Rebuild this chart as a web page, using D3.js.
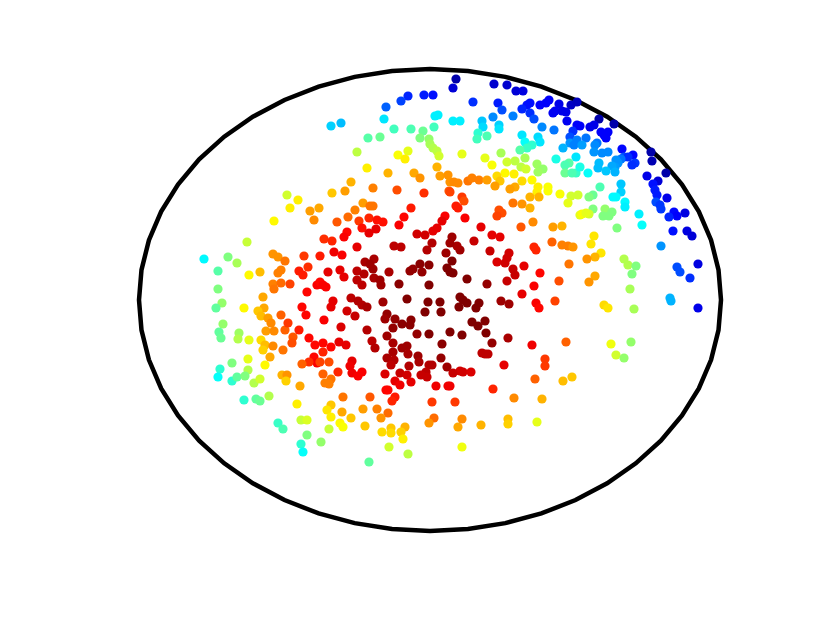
<!DOCTYPE html>
<html>
<head>
<meta charset="utf-8">
<script src="https://cdn.jsdelivr.net/npm/d3@7"></script>
<style>
  body { margin: 0; background: #fff; }
  svg { display: block; }
</style>
</head>
<body>
<div id="chart"></div>
<script>
// Points read off the picture, one line per region. Units are measured from the
// centre of the ellipse; level is the position on the jet colour map (0-100).
var pointX = [
  -143,-132,-140,-156,-120,-111,-116,-183,-157,-152,-145,-126,-110,-226,-202,-193,-212,-181,-170,-149,-152,-131,-122,-127,-157,-149,-140,-156,-113,-123,-212,-208,-214,-186,-167,-166,-172,-128,-149,-124,-169,-162,
  -207,-211,-209,-191,-192,-181,-169,-165,-167,-164,-156,-159,-145,-142,-131,-157,-147,-137,-138,-121,-115,-116,-113,-121,-128,-160,-182,-198,-165,-210,-212,-198,-193,-182,-185,-176,-170,-148,-143,-144,-130,-186,-174,-170,-161,-133,-129,-123,-152,-147,-123,-129,-127,-109,
  -22,-29,-44,-6,3,-46,5,8,-89,-99,4,-36,-19,-7,-62,-50,-10,-1,0,3,7,9,-73,-22,-32,-25,-63,7,-42,-16,-10,10,18,-79,-98,-85,-57,-33,-6,19,
  -67,-60,-57,-19,-75,-82,-93,-26,15,-71,-61,-53,-47,-31,-68,-54,-61,12,7,3,-5,-13,-83,-86,-106,-98,-73,-36,-29,2,-3,16,-96,-88,-65,-56,-60,-57,-10,-1,-17,-20,-8,-41,-73,-90,-102,-66,-86,-73,-56,-50,-68,-49,-31,-1,17,-110,-107,-104,-97,-99,-79,-72,-68,-63,-83,-75,-47,-23,-2,10,-5,11,-43,-45,-35,-19,-28,-20,-37,-106,-89,-63,
  -43,-13,-1,-37,-58,-55,-23,-28,-37,-22,12,-12,-11,-43,-36,-39,-21,11,-1,2,17,-4,-3,-9,-45,-30,-23,-35,-30,-19,6,18,-44,-42,-35,-38,2,-60,-87,-67,-53,-42,-49,-88,-99,-103,-99,-79,-90,-87,-101,-65,4,-1,-25,-39,-29,-48,-39,-27,-41,-22,-61,-107,-107,-99,-91,-84,-101,-110,-92,-78,-80,-78,-68,-72,-107,-99,-105,-101,
  26,23,64,77,86,93,43,68,72,100,97,92,110,116,119,129,141,147,123,125,132,136,137,100,104,63,83,52,23,30,53,69,69,112,124,147,143,140,48,47,57,92,95,108,110,140,133,147,144,102,97,90,32,71,55,95,126,146,77,85,62,91,96,107,113,108,139,135,135,146,142,75,84,67,92,102,70,65,85,80,118,118,108,107,100,109,130,141,148,20,24,28,38,42,49,57,20,32,
  34,26,28,83,92,100,138,69,72,67,35,91,103,123,132,51,62,70,44,122,132,138,143,104,106,30,27,60,79,77,67,75,139,22,20,22,20,23,94,83,85,110,37,77,129,57,104,92,30,33,37,49,46,29,71,79,106,109,125,42,48,55,
  20,32,56,62,78,102,136,52,55,58,115,115,74,30,33,41,23,105,142,133,63,20,84,112,25,32,28,51,78,78,107,32,
  169,184,160,164,178,171,174,176,156,150,221,222,192,203,194,198,205,202,167,165,152,178,172,164,191,186,188,185,182,185,169,168,176,158,150,236,217,228,191,170,223,225,227,237,191,186,183,163,159,195,195,226,230,231,209,163,175,182,179,173,159,150,152,156,244,255,247,239,212,187,243,257,
  262,231,164,161,171,165,157,194,198,206,202,268,247,250,260,165,159,200,240,241,268,174,178,204,181,201,186,194
];
var pointY = [
  105,100,92,79,89,92,80,58,46,43,39,44,44,41,43,37,29,25,28,30,27,29,33,25,16,17,16,11,15,8,11,-3,-8,-8,3,-8,-11,-7,-15,-15,-16,-18,
  -24,-32,-38,-33,-39,-40,-40,-45,-50,-31,-31,-23,-30,-23,-30,-46,-50,-37,-43,-38,-45,-57,-63,-62,-64,-57,-59,-63,-65,-69,-77,-81,-77,-70,-76,-83,-79,-75,-75,-81,-86,-100,-99,-101,-96,-104,-120,-120,-123,-129,-135,-144,-152,-142,
  204,199,193,205,205,181,184,185,177,174,173,171,171,169,162,163,162,161,156,152,149,144,148,149,145,141,132,133,127,127,122,124,125,118,107,109,112,110,107,109,
  97,94,94,92,90,83,78,83,84,79,82,80,78,75,72,71,67,79,72,69,65,66,68,63,61,59,53,54,53,57,50,47,48,45,38,41,36,31,36,35,31,29,28,28,29,30,28,26,23,20,22,20,15,15,16,15,32,18,15,13,-1,-7,2,-1,-5,-7,-11,-16,-2,1,-2,-2,-12,-12,-14,-19,-19,-20,-24,-25,-28,-20,-27,-30,
  -36,-34,-34,-43,-41,-48,-46,-48,-52,-54,-44,-56,-62,-58,-60,-65,-66,-58,-65,-65,-67,-72,-77,-75,-74,-73,-75,-81,-85,-82,-86,-86,-90,-90,-97,-101,-102,-97,-97,-109,-109,-113,-118,-112,-105,-110,-117,-118,-123,-127,-129,-126,-118,-123,-127,-128,-132,-132,-133,-139,-147,-154,-162,-43,-52,-47,-42,-45,-62,-62,-72,-61,-66,-73,-72,-76,-74,-79,-83,-84,
  221,212,216,215,209,209,198,197,190,197,195,191,195,197,200,196,195,198,187,189,189,188,179,187,181,183,184,179,179,179,173,175,171,173,170,175,169,163,167,161,164,165,158,163,158,157,152,160,155,155,152,150,146,147,142,142,141,143,138,139,135,133,131,136,131,128,137,135,127,127,127,127,126,124,119,120,119,114,113,111,113,109,113,108,103,103,106,104,105,118,118,117,119,122,120,120,108,103,
  99,94,92,97,96,92,97,90,87,84,82,73,78,73,74,73,65,63,59,58,55,54,53,53,50,50,54,49,47,42,38,37,36,63,57,39,28,27,34,31,25,27,21,19,19,16,14,6,3,0,-3,-3,-8,-7,-1,-4,-3,-8,-1,-22,-26,-21,
  -32,-35,-33,-43,-38,-45,-42,-53,-54,-54,-59,-66,-65,-71,-72,-72,-73,-79,-77,-81,-89,-86,-98,-99,-102,-119,-127,-125,-119,-124,-122,-147,
  181,176,173,175,168,168,165,162,162,174,148,139,151,145,143,143,137,135,157,155,155,148,147,148,141,140,137,133,134,128,137,132,129,127,133,127,124,119,116,113,116,110,105,102,108,103,103,105,103,98,93,98,95,91,86,91,91,88,84,84,86,85,86,87,88,87,84,83,75,72,69,69,
  64,54,64,56,47,43,41,41,35,34,26,36,33,28,22,24,18,11,2,-1,-8,-5,-8,-9,-44,-42,-55,-58
];
var pointLevel = [
  58,64,64,63,72,71,74,57,73,73,76,82,85,37,50,54,46,63,69,75,75,85,83,85,75,77,81,76,88,87,50,52,47,63,71,71,68,87,78,87,69,72,
  52,47,48,53,55,60,66,69,67,72,74,74,78,82,85,74,76,79,80,87,87,87,88,83,78,71,60,50,63,42,38,42,47,55,50,55,58,70,73,67,71,42,47,48,55,64,57,59,43,45,50,42,38,52,
  16,19,22,15,14,35,36,36,31,33,44,44,45,48,46,48,50,52,54,55,56,58,56,60,62,64,64,70,70,71,73,72,73,70,68,72,75,80,83,79,
  72,76,76,85,75,77,79,87,88,82,84,86,86,88,86,90,90,90,90,90,92,92,87,88,83,84,90,94,94,95,95,97,89,88,96,96,97,97,99,99,98,98,98,96,94,90,90,95,90,94,96,97,94,97,99,100,100,87,88,88,90,90,94,95,95,96,92,93,97,100,100,100,100,100,98,97,98,99,99,99,98,88,91,95,
  97,98,100,96,94,95,97,97,96,96,99,97,96,96,95,94,95,98,95,95,97,94,93,93,91,93,92,90,89,90,89,89,87,87,85,84,82,79,76,72,75,77,73,71,68,65,64,68,63,62,57,68,77,73,70,68,67,66,66,64,58,56,47,87,84,87,90,90,80,81,84,90,89,89,88,88,78,76,75,75,
  3,8,7,7,8,9,17,15,20,14,14,16,12,12,12,10,6,5,11,11,10,10,11,17,20,26,25,32,36,36,34,33,35,26,24,12,17,20,42,44,45,35,38,34,35,27,30,25,25,42,43,46,60,54,60,54,40,35,58,56,62,56,58,53,52,53,46,45,48,43,45,63,64,66,66,63,68,72,71,72,62,62,64,64,70,70,62,58,58,73,74,74,76,75,75,72,81,82,
  80,85,85,76,73,70,60,80,80,81,88,79,74,72,70,90,90,90,93,78,75,75,73,84,84,97,96,93,92,92,91,92,76,97,97,100,100,100,90,93,93,87,100,93,80,98,88,90,100,100,100,100,100,100,97,97,88,87,81,100,100,100,
  100,100,100,98,96,89,78,94,94,94,82,82,90,92,92,91,93,78,68,69,84,89,74,70,82,74,71,70,69,67,60,61,
  3,3,10,10,12,12,12,12,24,12,3,4,13,13,20,17,18,17,24,26,28,26,26,27,24,27,27,28,29,30,31,31,32,38,40,3,10,8,32,45,14,15,15,10,33,37,37,48,50,37,36,20,18,18,36,50,52,50,50,50,58,60,62,60,13,9,12,16,38,50,14,9,
  8,27,65,65,65,70,73,55,55,50,50,9,20,20,17,71,73,54,30,30,10,66,65,54,61,52,58,52
];

var width = 830,
    height = 623,
    dotRadius = 4.6;

// x and y run over the ellipse's half axes
var x = d3.scaleLinear().domain([-291, 291]).range([139, 721]);
var y = d3.scaleLinear().domain([-231, 231]).range([531, 69]);

// jet colour map
var jet = d3.scaleLinear()
  .domain([0, 12.5, 37.5, 62.5, 87.5, 100])
  .range(['#00008f', '#0000ff', '#00ffff', '#ffff00', '#ff0000', '#800000']);

var svg = d3.select('#chart').append('svg')
  .attr('width', width)
  .attr('height', height);

var outline = d3.line()
  .x(function(a) { return x(291 * Math.cos(a)); })
  .y(function(a) { return y(231 * Math.sin(a)); })
  .curve(d3.curveLinearClosed);

svg.append('path')
  .attr('d', outline(d3.range(0, 2 * Math.PI, Math.PI / 24)))
  .attr('fill', 'none')
  .attr('stroke', '#000')
  .attr('stroke-width', 4.5);

svg.selectAll('circle')
  .data(pointX.map(function(d, i) { return {x: d, y: pointY[i], level: pointLevel[i]}; }))
  .enter().append('circle')
    .attr('cx', function(d) { return x(d.x); })
    .attr('cy', function(d) { return y(d.y); })
    .attr('r', dotRadius)
    .attr('fill', function(d) { return jet(d.level); });
</script>
</body>
</html>
